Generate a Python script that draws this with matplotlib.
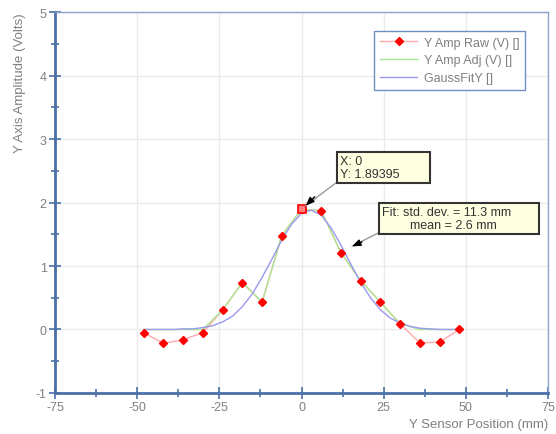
import matplotlib.pyplot as plt
from matplotlib.ticker import MultipleLocator
from matplotlib.lines import Line2D

# sensor positions (mm) and measured amplitudes (V)
pos = [-48, -42, -36, -30, -24, -18, -12, -6, 0, 6, 12, 18, 24, 30, 36, 42, 48]
amp_raw = [-0.05, -0.22, -0.16, -0.05, 0.31, 0.74, 0.43, 1.48, 1.89395,
           1.87, 1.21, 0.77, 0.43, 0.09, -0.21, -0.20, 0.0]
amp_adj = [0.0, 0.0, 0.0, 0.0, 0.31, 0.74, 0.43, 1.48, 1.89395,
           1.87, 1.21, 0.77, 0.43, 0.09, 0.0, 0.0, 0.0]

# gaussian fit curve
fit_x = [-48, -45, -42, -39, -36, -33, -30, -27, -24, -21, -18, -15, -12, -9, -6, -3,
         0, 3, 6, 9, 12, 15, 18, 21, 24, 27, 30, 33, 36, 39, 42, 45, 48]
fit_y = [0.00, 0.00, 0.00, 0.00, 0.01, 0.01, 0.03, 0.06, 0.12, 0.21, 0.36, 0.56, 0.82,
         1.11, 1.41, 1.66, 1.83, 1.88, 1.80, 1.60, 1.33, 1.03, 0.74, 0.50, 0.31, 0.18,
         0.10, 0.05, 0.02, 0.01, 0.00, 0.00, 0.00]

sel = 8  # selected point (X: 0)

grey = "#808080"
dark_blue = "#4a70a8"
light_blue = "#8aa4cc"
plt.rcParams["font.family"] = ["Liberation Sans", "DejaVu Sans"]
plt.rcParams["axes.unicode_minus"] = False

fig = plt.figure(figsize=(5.56, 4.35), dpi=100)
ax = fig.add_axes([0.099, 0.0943, 0.8866, 0.8757])

ax.plot(pos, amp_raw, color="#ffaaaa", lw=1, zorder=2)
ax.plot(pos, amp_adj, color="#a8e890", lw=1, zorder=3)
ax.plot(fit_x, fit_y, color="#9a9aee", lw=1, zorder=4)
ax.plot(pos, amp_raw, ls="none", marker="D", ms=4.5, color="red", zorder=5)
ax.plot(pos[sel], amp_raw[sel], ls="none", marker="s", ms=6, mfc="#ff8080",
        mec="red", mew=1.2, zorder=6)

ax.set_xlim(-75, 75)
ax.set_ylim(-1, 5)
ax.xaxis.set_major_locator(MultipleLocator(25))
ax.xaxis.set_minor_locator(MultipleLocator(12.5))
ax.yaxis.set_major_locator(MultipleLocator(1))
ax.yaxis.set_minor_locator(MultipleLocator(0.5))
ax.grid(True, which="major", color="#ebebeb", lw=1, zorder=0)
ax.set_axisbelow(True)

for s in ["left", "bottom"]:
    ax.spines[s].set_color(dark_blue)
    ax.spines[s].set_linewidth(2)
for s in ["top", "right"]:
    ax.spines[s].set_color(light_blue)
    ax.spines[s].set_linewidth(1)
ax.tick_params(which="major", direction="inout", length=8, width=1.2,
               color=dark_blue, labelcolor=grey, labelsize=9, pad=2)
ax.tick_params(which="minor", direction="inout", length=6, width=1.2, color=dark_blue)

fig.text(0.9856, 0.024, "Y Sensor Position (mm)", ha="right", va="center",
         color=grey, fontsize=9.5)
fig.text(0.036, 0.97, "Y Axis Amplitude (Volts)", ha="center", va="top",
         rotation=90, color=grey, fontsize=9.5)

handles = [
    Line2D([], [], color="#ffaaaa", lw=1, marker="D", ms=4.5, mfc="red", mec="red"),
    Line2D([], [], color="#a8e890", lw=1),
    Line2D([], [], color="#9a9aee", lw=1),
]
leg = ax.legend(handles, ["Y Amp Raw (V) []", "Y Amp Adj (V) []", "GaussFitY []"],
                loc="upper right", bbox_to_anchor=(0.953, 0.95), borderaxespad=0,
                fancybox=False, framealpha=1, edgecolor="#6f8fbf", fontsize=9,
                handlelength=3.0, handletextpad=0.5, labelspacing=0.45,
                borderpad=0.45)
leg.get_frame().set_linewidth(1)
for t in leg.get_texts():
    t.set_color(grey)

box = dict(boxstyle="square,pad=0.25", fc="#ffffe1", ec="#333333", lw=1.5)

# data tip
ax.annotate("X: 0\nY: 1.89395        ", xy=(1.3, 1.95), xytext=(11.6, 2.55),
            ha="left", va="center", fontsize=9, color="#333333", bbox=box,
            linespacing=1.1,
            arrowprops=dict(arrowstyle="-", color="#999999", lw=1,
                            relpos=(0, 0), shrinkA=0, shrinkB=0), zorder=7)
ax.annotate("", xy=(1.3, 1.95), xytext=(4.0, 2.09),
            arrowprops=dict(arrowstyle="-|>,head_length=0.5,head_width=0.2",
                            color="black", lw=1, shrinkA=0, shrinkB=0), zorder=7)

# fit result
ax.annotate("Fit: std. dev. = 11.3 mm       \n        mean = 2.6 mm", xy=(15.4, 1.31),
            xytext=(24.6, 1.75), ha="left", va="center", fontsize=9,
            color="#333333", bbox=box, linespacing=1.1,
            arrowprops=dict(arrowstyle="-", color="#999999", lw=1,
                            relpos=(0, 0), shrinkA=0, shrinkB=0), zorder=7)
ax.annotate("", xy=(15.4, 1.31), xytext=(18.4, 1.38),
            arrowprops=dict(arrowstyle="-|>,head_length=0.5,head_width=0.2",
                            color="black", lw=1, shrinkA=0, shrinkB=0), zorder=7)

fig.savefig("out.png", dpi=100)
